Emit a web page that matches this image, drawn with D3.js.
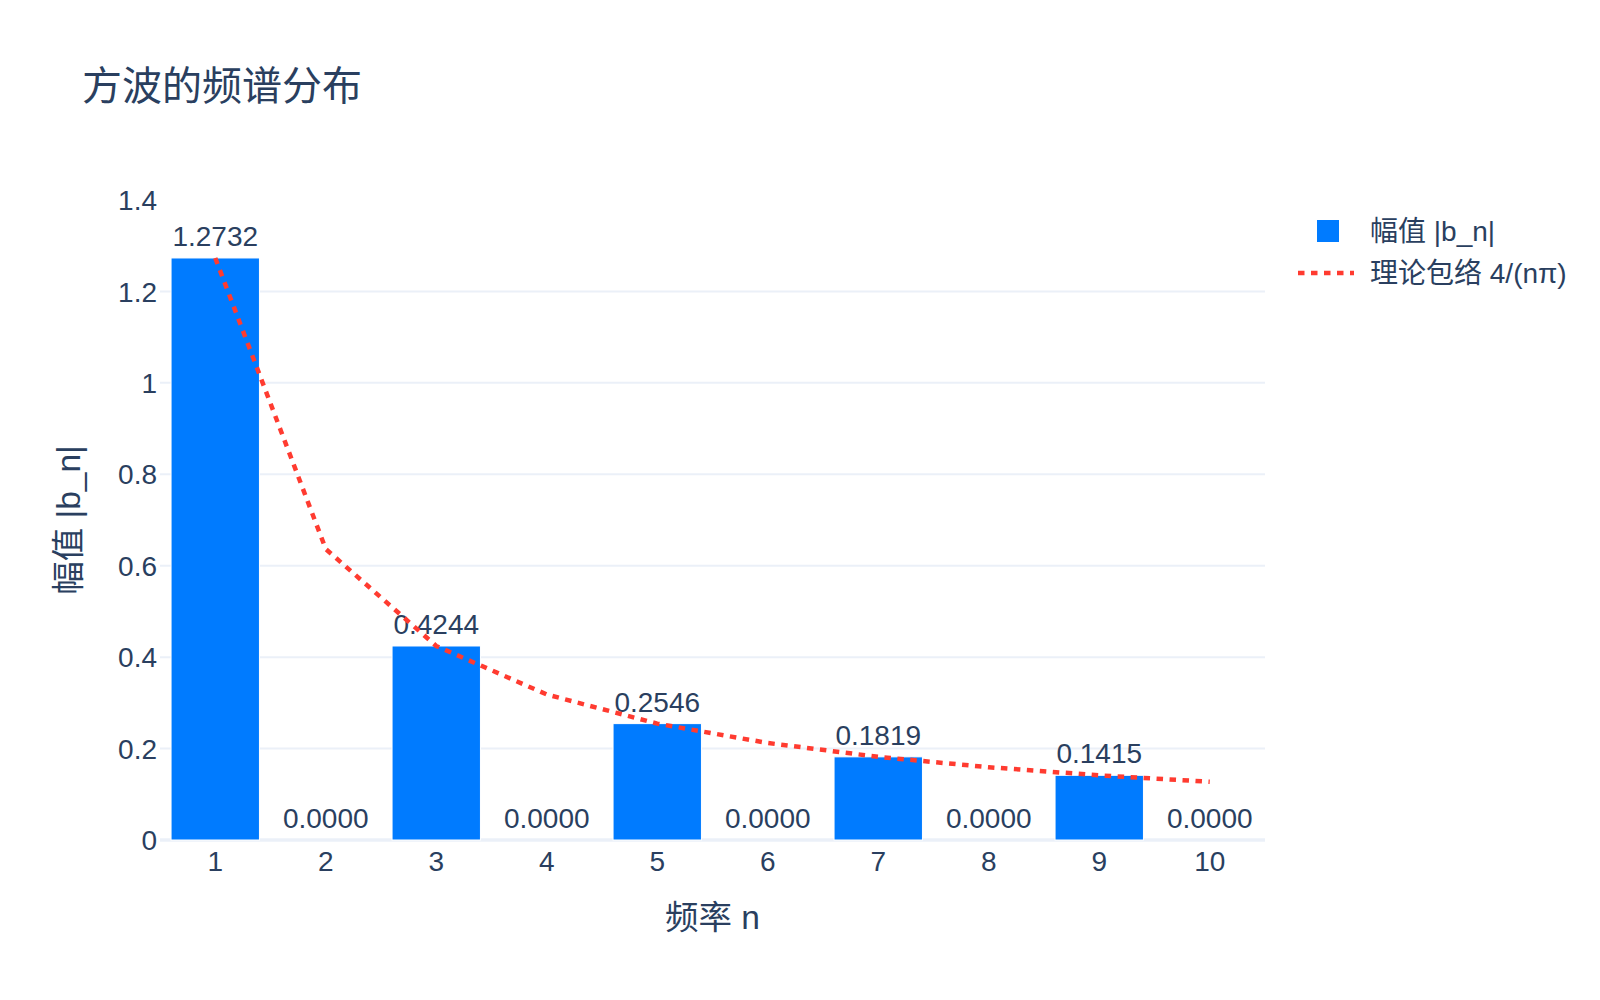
<!DOCTYPE html>
<html lang="zh">
<head>
    <meta charset="UTF-8">
    <title>方波的频谱分布</title>
    <style>
        body{margin:0;background:#fff;}
        text{font-family:"Liberation Sans",Arial,"Noto Sans CJK SC",sans-serif;fill:#2a3f5f;}
    </style>
</head>
<body>
</body>
<script src="https://cdn.jsdelivr.net/npm/d3@7/dist/d3.min.js"></script>
<script>
    var width=1600;
    var height=1000;

    // data
    var harmonics=[1,2,3,4,5,6,7,8,9,10];
    var amplitudes=[1.2732,0,0.4244,0,0.2546,0,0.1819,0,0.1415,0];
    var envelope=[1.2732,0.6366,0.4244,0.3183,0.2546,0.2122,0.1819,0.1592,0.1415,0.1273];
    var yTicks=[0,0.2,0.4,0.6,0.8,1,1.2,1.4];
    var yTickLabels=["0","0.2","0.4","0.6","0.8","1","1.2","1.4"];

    var plot={left:160,right:1265,top:200,bottom:840};

    var svg=d3.select('body')
            .append('svg')
            .attr('width',width)
            .attr('height',height);

    var x=d3.scaleLinear().domain([0.5,10.5]).range([plot.left,plot.right]);
    var y=d3.scaleLinear().domain([0,1.4]).range([plot.bottom,plot.top]);
    var barW=(x(2)-x(1))*0.8;

    // grid
    svg.append('g')
            .selectAll('line')
            .data(yTicks.filter(function(d){return d>0&&d<1.4;}))
            .enter()
            .append('line')
            .attr('x1',plot.left)
            .attr('x2',plot.right)
            .attr('y1',function(d){return y(d);})
            .attr('y2',function(d){return y(d);})
            .attr('stroke','#EBF0F8')
            .attr('stroke-width',2);

    svg.append('line')
            .attr('x1',plot.left)
            .attr('x2',plot.right)
            .attr('y1',y(0))
            .attr('y2',y(0))
            .attr('stroke','#EBF0F8')
            .attr('stroke-width',3.5);

    // y tick labels
    svg.append('g')
            .selectAll('text')
            .data(yTicks)
            .enter()
            .append('text')
            .attr('x',157)
            .attr('y',function(d){return y(d);})
            .attr('dy','0.36em')
            .attr('text-anchor','end')
            .attr('font-size','28px')
            .text(function(d,i){return yTickLabels[i];});

    // x tick labels
    svg.append('g')
            .selectAll('text')
            .data(harmonics)
            .enter()
            .append('text')
            .attr('x',function(d){return x(d);})
            .attr('y',871)
            .attr('text-anchor','middle')
            .attr('font-size','28px')
            .text(function(d){return d;});

    // bars
    svg.append('g')
            .selectAll('rect')
            .data(amplitudes)
            .enter()
            .append('rect')
            .attr('x',function(d,i){return x(harmonics[i])-barW/2;})
            .attr('y',function(d){return y(d);})
            .attr('width',barW)
            .attr('height',function(d){return y(0)-y(d);})
            .attr('fill','#007BFF')
            .attr('stroke','#fff')
            .attr('stroke-width',1);

    svg.append('g')
            .selectAll('text')
            .data(amplitudes)
            .enter()
            .append('text')
            .attr('x',function(d,i){return x(harmonics[i]);})
            .attr('y',function(d){return y(d)-12;})
            .attr('text-anchor','middle')
            .attr('font-size','28px')
            .text(function(d){return d.toFixed(4);});

    // envelope line
    var line=d3.line()
            .x(function(d,i){return x(harmonics[i]);})
            .y(function(d){return y(d);});

    svg.append('path')
            .datum(envelope)
            .attr('d',line)
            .attr('fill','none')
            .attr('stroke','#FF3B30')
            .attr('stroke-width',4.5)
            .attr('stroke-dasharray','6.5,6.5');

    // titles
    svg.append('text')
            .attr('x',82)
            .attr('y',100)
            .attr('font-size','40px')
            .text('方波的频谱分布');

    svg.append('text')
            .attr('x',(plot.left+plot.right)/2)
            .attr('y',929)
            .attr('text-anchor','middle')
            .attr('font-size','33.5px')
            .text('频率 n');

    svg.append('text')
            .attr('transform','translate(80,'+((plot.top+plot.bottom)/2)+') rotate(-90)')
            .attr('text-anchor','middle')
            .attr('font-size','33.5px')
            .text('幅值 |b_n|');

    // legend
    var legend=svg.append('g').attr('transform','translate(1298,0)');
    legend.append('rect')
            .attr('x',19)
            .attr('y',220)
            .attr('width',22)
            .attr('height',22)
            .attr('fill','#007BFF');
    legend.append('text')
            .attr('x',72)
            .attr('y',231)
            .attr('dy','0.36em')
            .attr('font-size','28px')
            .text('幅值 |b_n|');
    legend.append('line')
            .attr('x1',0)
            .attr('x2',56)
            .attr('y1',273)
            .attr('y2',273)
            .attr('stroke','#FF3B30')
            .attr('stroke-width',4.5)
            .attr('stroke-dasharray','6.5,6.5');
    legend.append('text')
            .attr('x',72)
            .attr('y',273)
            .attr('dy','0.36em')
            .attr('font-size','28px')
            .text('理论包络 4/(nπ)');
</script>
</html>
